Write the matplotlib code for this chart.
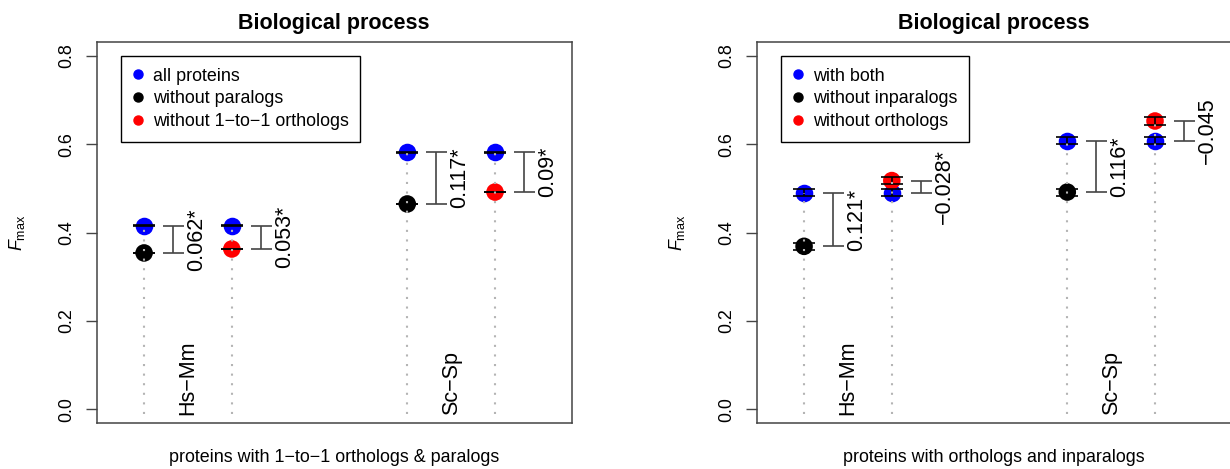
import numpy as np
import matplotlib
matplotlib.use("Agg")
import matplotlib.pyplot as plt
from matplotlib.lines import Line2D

plt.rcParams['font.family'] = ['Liberation Sans', 'DejaVu Sans']
plt.rcParams['mathtext.fontset'] = 'custom'
plt.rcParams['mathtext.rm'] = 'Liberation Sans'
plt.rcParams['mathtext.it'] = 'Liberation Sans:italic'

# x positions of the four comparisons, two species pairs
positions = np.array([1, 2, 4, 5])
pair_labels = ['Hs\u2212Mm', 'Sc\u2212Sp']
pair_pos = [1.5, 4.5]

# left panel: proteins with 1-to-1 orthologs & paralogs
left_ref = np.array([0.416, 0.416, 0.582, 0.582])
left_ref_err = np.array([0.001, 0.001, 0.001, 0.001])
left_alt = np.array([0.354, 0.363, 0.465, 0.492])
left_alt_err = np.array([0.001, 0.001, 0.001, 0.001])
left_diff = ['0.062*', '0.053*', '0.117*', '0.09*']
left_legend = ['all proteins', 'without paralogs', 'without 1\u2212to\u22121 orthologs']
left_xlabel = 'proteins with 1\u2212to\u22121 orthologs & paralogs'

# right panel: proteins with orthologs and inparalogs
right_ref = np.array([0.490, 0.490, 0.608, 0.608])
right_ref_err = np.array([0.008, 0.008, 0.008, 0.008])
right_alt = np.array([0.369, 0.518, 0.492, 0.653])
right_alt_err = np.array([0.008, 0.008, 0.008, 0.008])
right_diff = ['0.121*', '\u22120.028*', '0.116*', '\u22120.045']
right_legend = ['with both', 'without inparalogs', 'without orthologs']
right_xlabel = 'proteins with orthologs and inparalogs'

title = 'Biological process'
alt_colors = ['black', 'red', 'black', 'red']
series_colors = ['blue', 'black', 'red']

FS = 12.9


def draw_panel(ax, ref, ref_err, alt, alt_err, diff, legend_labels, xlabel):
    # dotted guide lines
    ax.vlines(positions, -0.012, np.maximum(ref, alt), colors='#b4b4b4',
              linestyles=(0, (1, 3.6)), linewidth=1.5, zorder=5)
    ax.scatter(positions, ref, s=160, c='blue', linewidths=0, zorder=3)
    ax.scatter(positions, alt, s=160, c=alt_colors, linewidths=0, zorder=3)
    ax.errorbar(positions, ref, yerr=ref_err, fmt='none', ecolor='black',
                capsize=7.6, elinewidth=1.2, capthick=1.2, zorder=4)
    ax.errorbar(positions, alt, yerr=alt_err, fmt='none', ecolor='black',
                capsize=7.6, elinewidth=1.2, capthick=1.2, zorder=4)

    # difference brackets
    bx = positions + 0.333
    ax.vlines(bx, alt, ref, colors='#444444', linewidth=1.2)
    ax.hlines(ref, bx - 0.12, bx + 0.12, colors='#444444', linewidth=1.2)
    ax.hlines(alt, bx - 0.12, bx + 0.12, colors='#444444', linewidth=1.2)
    for p, a, b, lab in zip(positions, ref, alt, diff):
        ax.text(p + 0.6, (a + b) / 2, lab, rotation=90, ha='center',
                va='center', fontsize=15.5)

    for p, lab in zip(pair_pos, pair_labels):
        ax.text(p, -0.0136, lab, rotation=90, ha='center', va='bottom',
                fontsize=15.5)

    ax.set_xlim(0.46, 5.874)
    ax.set_ylim(-0.032, 0.832)
    ax.set_xticks([])
    ax.set_yticks([0.0, 0.2, 0.4, 0.6, 0.8])
    ax.set_yticklabels(['0.0', '0.2', '0.4', '0.6', '0.8'])
    ax.tick_params(axis='y', length=7.7, width=1.0, color='#444444',
                   pad=8, labelsize=FS)
    for t in ax.get_yticklabels():
        t.set_rotation(90)
        t.set_va('center')
    for sp in ax.spines.values():
        sp.set_color('#444444')
        sp.set_linewidth(1.1)

    ax.set_title(title, fontsize=15.5, fontweight='bold', pad=9)
    ax.set_xlabel(xlabel, fontsize=FS)
    ax.xaxis.label.set_va('center')
    ax.xaxis.set_label_coords(0.5, -0.0892)
    ax.set_ylabel(r'$F_{\mathrm{max}}$', fontsize=FS)
    ax.yaxis.label.set_va('center')
    ax.yaxis.set_label_coords(-0.168, 0.5)

    handles = [Line2D([], [], marker='o', linestyle='none', color=c,
                      markersize=6.5) for c in series_colors]
    leg = ax.legend(handles, legend_labels, loc='upper left',
                    bbox_to_anchor=(0.0505, 0.963), fontsize=FS,
                    frameon=True, fancybox=False, framealpha=1,
                    edgecolor='black', borderpad=0.64, handlelength=0.6,
                    handletextpad=0.55, labelspacing=0.32, borderaxespad=0)
    leg.get_frame().set_linewidth(1.0)


fig = plt.figure(figsize=(12.3, 4.69), dpi=100)
ax1 = fig.add_axes([96.7 / 1230, 45.7 / 469, 475 / 1230, 381.3 / 469])
ax2 = fig.add_axes([756.7 / 1230, 45.7 / 469, 475 / 1230, 381.3 / 469])

draw_panel(ax1, left_ref, left_ref_err, left_alt, left_alt_err, left_diff,
           left_legend, left_xlabel)
draw_panel(ax2, right_ref, right_ref_err, right_alt, right_alt_err, right_diff,
           right_legend, right_xlabel)

fig.savefig('out.png', dpi=100)
